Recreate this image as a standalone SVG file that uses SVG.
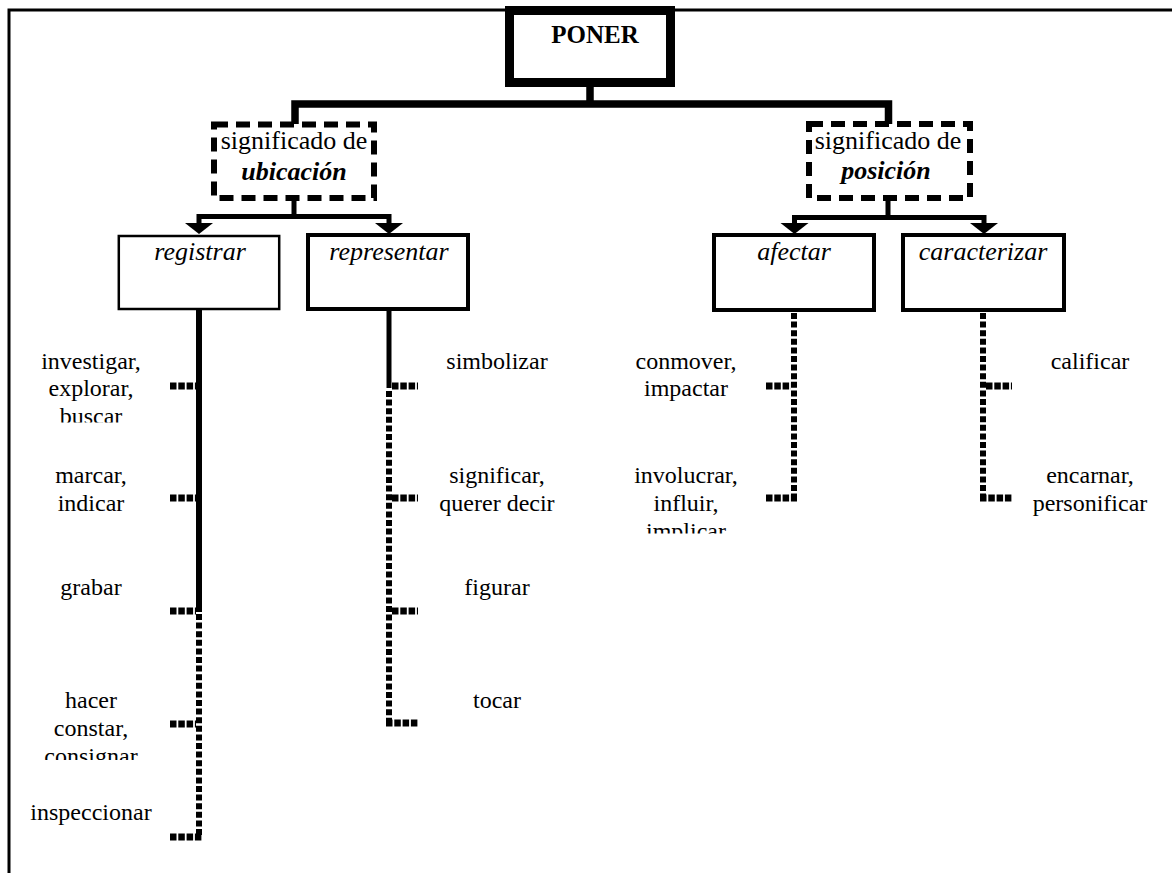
<svg xmlns="http://www.w3.org/2000/svg" width="1172" height="873" viewBox="0 0 1172 873">
<style>
text{font-family:"Liberation Serif","Times New Roman",serif;fill:#000;text-anchor:middle}
.lbl{font-size:24px}
.box{font-size:26px;font-style:italic}
.sig{font-size:26px}
.sigb{font-size:26px;font-weight:bold;font-style:italic}
.root{font-size:25px;font-weight:bold}
.solid{fill:none;stroke:#000}
.vdot{fill:none;stroke:#000;stroke-width:6;stroke-dasharray:6 2.6}
.tick{fill:none;stroke:#000;stroke-width:7;stroke-dasharray:6.5 1.8}
</style>
<defs>
<path id="ah" d="M-14,-11 L14,-11 L0,0 Z" fill="#000"/>
<clipPath id="c1"><rect x="0" y="0" width="1172" height="422.5"/></clipPath>
<clipPath id="c2"><rect x="0" y="0" width="1172" height="760"/></clipPath>
<clipPath id="c3"><rect x="0" y="0" width="1172" height="533.5"/></clipPath>
</defs>
<rect width="1172" height="873" fill="#fff"/>
<g id="frame">
<path d="M9,873 V10 H1172" fill="none" stroke="#000" stroke-width="3"/>
</g>
<g id="connectors">
<path class="solid" stroke-width="7.5" d="M590,87 V104 M295,124 V104 H888.5 V124"/>
<path class="solid" stroke-width="5" d="M199,224 V216.5 H389 V224 M294,200 V216.5"/>
<path class="solid" stroke-width="5" d="M794.5,224 V217.5 H984 V224 M888,200 V217.5"/>
<use href="#ah" x="199" y="234"/>
<use href="#ah" x="389" y="234"/>
<use href="#ah" x="794.5" y="234"/>
<use href="#ah" x="984" y="234"/>
<path class="solid" stroke-width="6" d="M199,310 V612"/>
<path class="vdot" d="M199,614 V837"/>
<path class="tick" d="M170,386 H196 M170,498 H196 M170,611 H196 M170,724 H196 M170,837 H202"/>
<path class="solid" stroke-width="5" d="M389,311 V388"/>
<path class="vdot" d="M389,391 V723"/>
<path class="tick" d="M392,386 H418 M392,498 H418 M392,611 H418 M386,723 H418"/>
<path class="vdot" d="M794,313 V498"/>
<path class="tick" d="M766,386 H791 M766,498 H797"/>
<path class="vdot" d="M983,313 V498"/>
<path class="tick" d="M986,386 H1012 M980,498 H1012"/>
</g>
<g id="poner">
<rect x="509.5" y="10.5" width="161" height="72" fill="#fff" stroke="#000" stroke-width="9"/>
<text class="root" x="595" y="43">PONER</text>
</g>
<g id="ubicacion">
<rect x="214" y="124.5" width="160" height="73.5" fill="none" stroke="#000" stroke-width="6" stroke-dasharray="14 8"/>
<text class="sig" x="294" y="148.5">significado de</text>
<text class="sigb" x="294" y="179.5">ubicación</text>
</g>
<g id="posicion">
<rect x="809" y="124" width="161" height="74" fill="none" stroke="#000" stroke-width="6" stroke-dasharray="14 8"/>
<text class="sig" x="888" y="148.5">significado de</text>
<text class="sigb" x="886" y="179">posición</text>
</g>
<g id="registrar">
<rect x="118.8" y="236" width="160.4" height="73" fill="#fff" stroke="#000" stroke-width="2.5"/>
<text class="box" x="200" y="260">registrar</text>
</g>
<g id="representar">
<rect x="308" y="235" width="160" height="74" fill="#fff" stroke="#000" stroke-width="4"/>
<text class="box" x="389" y="260">representar</text>
</g>
<g id="afectar">
<rect x="714" y="235" width="160" height="75" fill="#fff" stroke="#000" stroke-width="4"/>
<text class="box" x="794" y="260">afectar</text>
</g>
<g id="caracterizar">
<rect x="903" y="235" width="161" height="75" fill="#fff" stroke="#000" stroke-width="4"/>
<text class="box" x="983" y="260">caracterizar</text>
</g>
<g id="n-investigar">
<g clip-path="url(#c1)">
<text class="lbl" x="91" y="368.5">investigar,</text>
<text class="lbl" x="91" y="396">explorar,</text>
<text class="lbl" x="91" y="423.5">buscar</text>
</g>
</g>
<g id="n-marcar">
<text class="lbl" x="91" y="483">marcar,</text>
<text class="lbl" x="91" y="510.5">indicar</text>
</g>
<g id="n-grabar">
<text class="lbl" x="91" y="595">grabar</text>
</g>
<g id="n-hacer">
<g clip-path="url(#c2)">
<text class="lbl" x="91" y="707.5">hacer</text>
<text class="lbl" x="91" y="735.5">constar,</text>
<text class="lbl" x="91" y="763.5">consignar</text>
</g>
</g>
<g id="n-inspeccionar">
<text class="lbl" x="91" y="820">inspeccionar</text>
</g>
<g id="n-simbolizar">
<text class="lbl" x="497" y="368.5">simbolizar</text>
</g>
<g id="n-significar">
<text class="lbl" x="497" y="483">significar,</text>
<text class="lbl" x="497" y="510.5">querer decir</text>
</g>
<g id="n-figurar">
<text class="lbl" x="497" y="595">figurar</text>
</g>
<g id="n-tocar">
<text class="lbl" x="497" y="707.5">tocar</text>
</g>
<g id="n-conmover">
<text class="lbl" x="686" y="368.5">conmover,</text>
<text class="lbl" x="686" y="396">impactar</text>
</g>
<g id="n-involucrar">
<g clip-path="url(#c3)">
<text class="lbl" x="686" y="483">involucrar,</text>
<text class="lbl" x="686" y="510.5">influir,</text>
<text class="lbl" x="686" y="538.5">implicar</text>
</g>
</g>
<g id="n-calificar">
<text class="lbl" x="1090" y="368.5">calificar</text>
</g>
<g id="n-encarnar">
<text class="lbl" x="1090" y="483">encarnar,</text>
<text class="lbl" x="1090" y="510.5">personificar</text>
</g>
</svg>
